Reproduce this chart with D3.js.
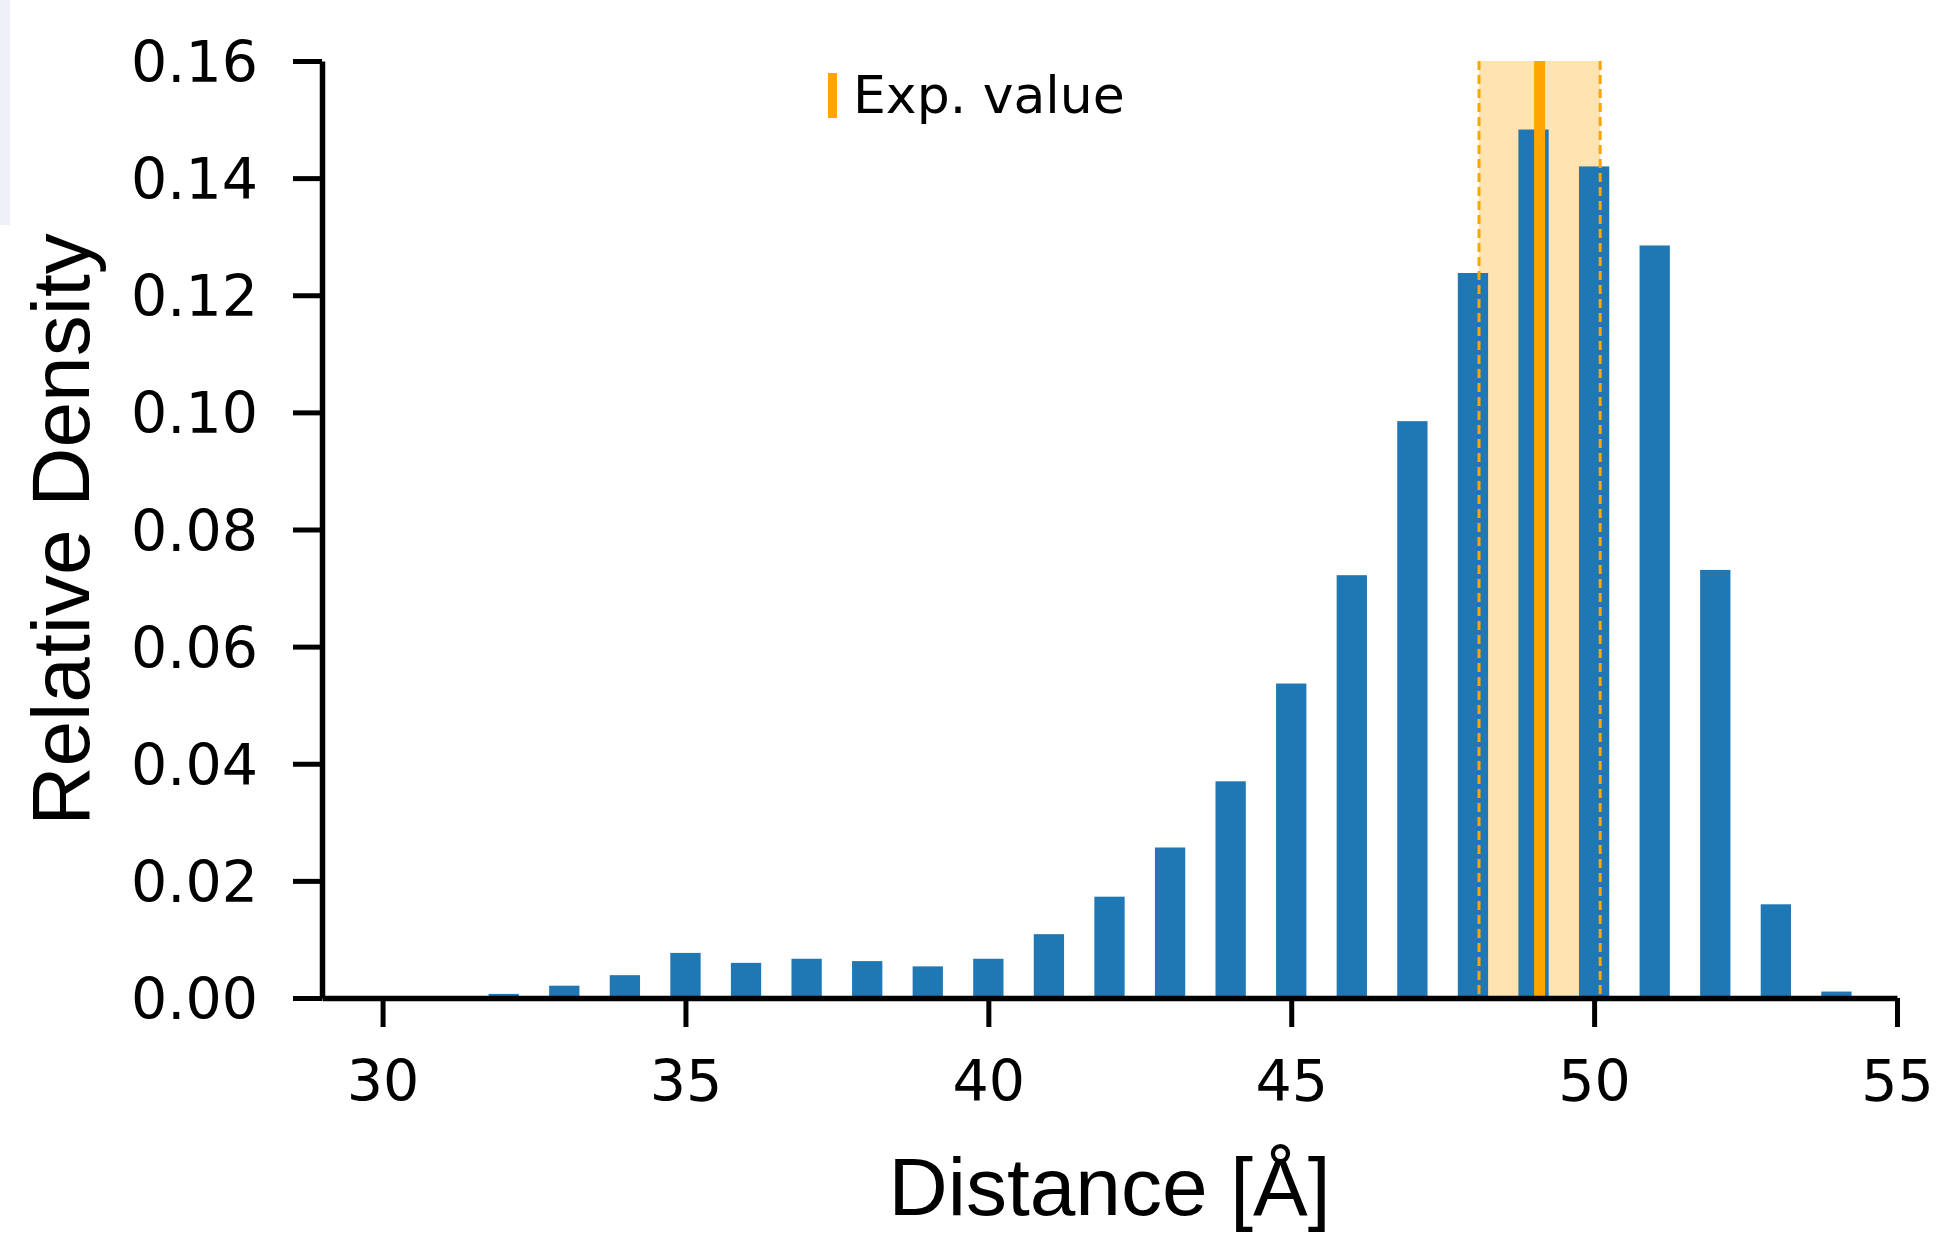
<!DOCTYPE html>
<html>
<head>
<meta charset="utf-8">
<script src="https://cdn.jsdelivr.net/npm/d3@7"></script>
<style>
  html, body { margin: 0; padding: 0; background: #ffffff; }
  svg { display: block; }
</style>
</head>
<body>
<script>
// ---- Data ----
const binCenters = [32, 33, 34, 35, 36, 37, 38, 39, 40, 41, 42, 43, 44, 45, 46, 47, 48, 49, 50, 51, 52, 53, 54];
const densities  = [0.0007, 0.0021, 0.0039, 0.0077, 0.0060, 0.0067, 0.0063, 0.0054, 0.0067, 0.0109, 0.0173,
                    0.0257, 0.0370, 0.0537, 0.0722, 0.0985, 0.1238, 0.1483, 0.1420, 0.1285, 0.0731, 0.0160, 0.0011];
const barWidthUnits = 0.5;
const expValue = 49.1;
const expError = 1.0;
const xTicks = [30, 35, 40, 45, 50, 55];
const yTicks = [0, 0.02, 0.04, 0.06, 0.08, 0.10, 0.12, 0.14, 0.16];
const xDomain = [29, 55];
const yDomain = [0, 0.16];
const xLabel = "Distance [Å]";
const yLabel = "Relative Density";
const legendLabel = "Exp. value";

// ---- Layout ----
const W = 1936, H = 1233;
const mLeft = 322, mRight = 1897, mTop = 61, mBottom = 998;

const svg = d3.select("body").append("svg").attr("width", W).attr("height", H);

// faint strip at left edge of the reference
svg.append("rect").attr("x", 0).attr("y", 0).attr("width", 10).attr("height", 225).attr("fill", "#eff0f8");

const x = d3.scaleLinear().domain(xDomain).range([mLeft, mRight]);
const y = d3.scaleLinear().domain(yDomain).range([mBottom, mTop]);

const orange = "#ffa500";
const blue = "#1f77b4";

// Experimental band
svg.append("rect")
  .attr("x", x(expValue - expError))
  .attr("y", y(yDomain[1]))
  .attr("width", x(expValue + expError) - x(expValue - expError))
  .attr("height", y(0) - y(yDomain[1]))
  .attr("fill", orange).attr("fill-opacity", 0.3);

// Bars
svg.append("g").selectAll("rect").data(binCenters).join("rect")
  .attr("x", (d) => x(d - barWidthUnits / 2))
  .attr("width", (d) => x(d + barWidthUnits / 2) - x(d - barWidthUnits / 2))
  .attr("y", (d, i) => y(densities[i]))
  .attr("height", (d, i) => y(0) - y(densities[i]))
  .attr("fill", blue);

// Dashed band edges
[expValue - expError, expValue + expError].forEach(v => {
  svg.append("line")
    .attr("x1", x(v)).attr("x2", x(v))
    .attr("y1", y(yDomain[1])).attr("y2", y(0))
    .attr("stroke", orange).attr("stroke-width", 3)
    .attr("stroke-dasharray", "9,5");
});

// Exp value line
svg.append("line")
  .attr("x1", x(expValue)).attr("x2", x(expValue))
  .attr("y1", y(yDomain[1])).attr("y2", y(0))
  .attr("stroke", orange).attr("stroke-width", 11);

// Axes
const fmt = d3.format(".2f");
const yAxis = d3.axisLeft(y).tickValues(yTicks).tickFormat(fmt).tickSize(29).tickSizeOuter(0).tickPadding(35);
const xAxis = d3.axisBottom(x).tickValues(xTicks).tickFormat(d3.format("d")).tickSize(29).tickSizeOuter(0).tickPadding(34);

const gy = svg.append("g").attr("transform", `translate(${mLeft},0)`).call(yAxis);
const gx = svg.append("g").attr("transform", `translate(0,${mBottom})`).call(xAxis);

[gx, gy].forEach(g => {
  g.select(".domain").attr("stroke", "#000").attr("stroke-width", 5.5);
  g.selectAll(".tick line").attr("stroke", "#000").attr("stroke-width", 5);
  g.selectAll(".tick text")
    .attr("fill", "#000")
    .style("font-family", "'DejaVu Sans', Verdana, sans-serif")
    .style("font-size", "57px");
});
gy.selectAll(".tick text").attr("dy", "0.36em");

// Axis labels
svg.append("text")
  .attr("x", (mLeft + mRight) / 2).attr("y", 1215)
  .attr("text-anchor", "middle")
  .style("font-family", "'Liberation Sans', Arial, sans-serif")
  .style("font-size", "82px")
  .attr("fill", "#000")
  .text(xLabel);

svg.append("text")
  .attr("transform", `translate(89,${(mTop + mBottom) / 2}) rotate(-90)`)
  .attr("text-anchor", "middle")
  .style("font-family", "'Liberation Sans', Arial, sans-serif")
  .style("font-size", "82px")
  .attr("fill", "#000")
  .text(yLabel);

// Legend
svg.append("line")
  .attr("x1", 832.5).attr("x2", 832.5).attr("y1", 73).attr("y2", 118)
  .attr("stroke", orange).attr("stroke-width", 9);
svg.append("text")
  .attr("x", 853).attr("y", 113)
  .style("font-family", "'DejaVu Sans', Verdana, sans-serif")
  .style("font-size", "52px")
  .attr("fill", "#000")
  .text(legendLabel);
</script>
</body>
</html>
